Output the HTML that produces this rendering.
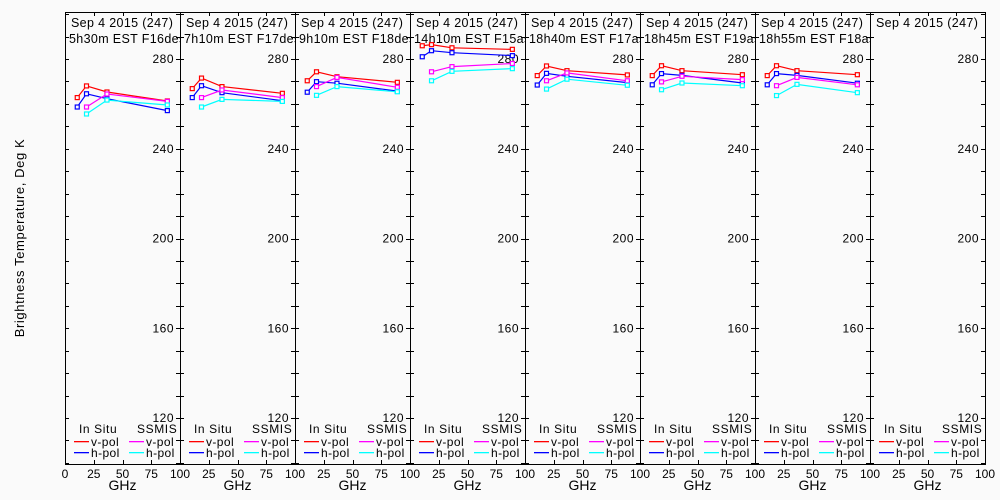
<!DOCTYPE html>
<html><head><meta charset="utf-8"><style>
html,body{margin:0;padding:0;background:#fafafa;}
svg{display:block;font-family:"Liberation Sans",sans-serif;}
</style></head><body>
<svg id="chart" width="1000" height="500" viewBox="0 0 1000 500" xmlns="http://www.w3.org/2000/svg">
<rect x="0" y="0" width="1000" height="500" fill="#fafafa"/>
<text transform="translate(24,238) rotate(-90)" text-anchor="middle" font-size="13" letter-spacing="0.6" fill="#000">Brightness Temperature, Deg K</text>
<g id="panels"></g>
</svg>
<script>
const titles1 = ["Sep 4 2015 (247)","Sep 4 2015 (247)","Sep 4 2015 (247)","Sep 4 2015 (247)","Sep 4 2015 (247)","Sep 4 2015 (247)","Sep 4 2015 (247)","Sep 4 2015 (247)"];
const titles2 = ["5h30m EST F16des","7h10m EST F17des","9h10m EST F18des","14h10m EST F15asc","18h40m EST F17asc","18h45m EST F19asc","18h55m EST F18asc",""];
const inSituFreq = [10.65, 18.7, 36.5, 89];
const ssmisFreq = [18.7, 36.5, 89];
const inSituV = [[262.8,268,265.3,261.3],[266.8,271.5,267.7,264.7],[270.3,274.3,272.1,269.6],[285.9,286.4,285,284.3],[272.6,276.9,274.8,272.9],[272.6,277,274.8,273],[272.6,277,274.8,273],null];
const inSituH = [[258.6,264.5,262.3,257],[262.8,268.1,265,261.4],[265.2,269.9,269.2,265.7],[281,283.7,282.8,281.5],[268.4,273.6,272.3,269.5],[268.5,273.5,272.7,269.3],[268.5,273.5,272.7,269.2],null];
const ssmisV = [[258.6,264.4,261.1],[262.8,266.2,262.8],[267.7,271.8,267.4],[274.3,276.6,278],[270.3,273.8,270.3],[269.8,272.3,270.8],[268.1,271.8,268.5],null];
const ssmisH = [[255.5,261.7,259.5],[258.6,262,261.1],[263.8,267.7,265.4],[270.3,274.5,275.7],[266.6,271,268.3],[266.3,269.3,268.1],[263.7,268.7,265],null];
const yTicks = [120,160,200,240,280];
const xTicks = [0,25,50,75,100];

const NS="http://www.w3.org/2000/svg";
const X0=65, PW=115, TOP=12, BOT=464;
const yScale = v => 418 - (v-120)*(359/160);
function mk(tag, attrs, parent){const e=document.createElementNS(NS,tag);for(const k in attrs)e.setAttribute(k,attrs[k]);parent.appendChild(e);return e;}
const root=document.getElementById('panels');
const defs=mk('defs',{},root);
for(let p=0;p<8;p++){
  const left=X0+p*PW, right=left+PW;
  const xs = f => left + f/100*PW;
  const g=mk('g',{},root);
  
  
  const cp=mk('clipPath',{id:'cp'+p},defs);
  mk('rect',{x:left,y:0,width:PW,height:500},cp);
  const frame=mk('rect',{x:left+0.5,y:TOP+0.5,width:PW,height:BOT-TOP,fill:'none',stroke:'#000','stroke-width':1},g);
  
  
  for(let v=100;v<=300;v+=10){
    const y=Math.round(yScale(v))+0.5;
    if(y<TOP||y>BOT)continue;
    mk('line',{x1:left,x2:left+4,y1:y,y2:y,stroke:'#000'},g);
    mk('line',{x1:right-4,x2:right,y1:y,y2:y,stroke:'#000'},g);
  }
  yTicks.forEach(v=>{
    const t=mk('text',{x:right-6,y:yScale(v)+4,'text-anchor':'end','font-size':12,'letter-spacing':0.5,fill:'#000'},g);
    
    
    t.textContent=v;
  });
  xTicks.forEach(v=>{
    const x=Math.round(xs(v))+0.5;
    mk('line',{x1:x,x2:x,y1:BOT,y2:BOT-4,stroke:'#000'},g);
    mk('line',{x1:x,x2:x,y1:TOP,y2:TOP+4,stroke:'#000'},g);
    if(p>0&&v===0)return;
    const t=mk('text',{x:xs(v),y:BOT+14,'text-anchor':'middle','font-size':12,fill:'#000'},g);
    
    
    t.textContent=v;
  });
  const xl=mk('text',{x:left+PW/2,y:490,'text-anchor':'middle','font-size':14,fill:'#000'},g);
  
  
  xl.textContent='GHz';
  const tg=mk('g',{'clip-path':'url(#cp'+p+')'},g);
  const t1=mk('text',{x:left+6,y:27,'font-size':12.5,'letter-spacing':0.35,fill:'#000'},tg);
  
  
  t1.textContent=titles1[p];
  const t2=mk('text',{x:left+4,y:43,'font-size':12.5,'letter-spacing':0.35,fill:'#000'},tg);
  
  
  t2.textContent=titles2[p];
  const lg=mk('g',{},g);
  
  
  const h1=mk('text',{x:left+14,y:433,'font-size':12,'letter-spacing':0.6,fill:'#000'},lg); h1.textContent='In Situ';
  const h2=mk('text',{x:left+72,y:433,'font-size':12,'letter-spacing':0.6,fill:'#000'},lg); h2.textContent='SSMIS';
  [['v-pol','#f00','#f0f',446],['h-pol','#00f','#0ff',457]].forEach(r=>{
    mk('rect',{x:left+9,y:r[3]-5,width:15,height:1.3,fill:r[1]},lg);
    const a=mk('text',{x:left+26,y:r[3],'font-size':12,'letter-spacing':0.4,fill:'#000'},lg); a.textContent=r[0];
    mk('rect',{x:left+64,y:r[3]-5,width:15,height:1.3,fill:r[2]},lg);
    const b=mk('text',{x:left+81,y:r[3],'font-size':12,'letter-spacing':0.4,fill:'#000'},lg); b.textContent=r[0];
  });
  const series=[[inSituV,inSituFreq,'#f00','insitu-vpol'],[inSituH,inSituFreq,'#00f','insitu-hpol'],[ssmisV,ssmisFreq,'#f0f','ssmis-vpol'],[ssmisH,ssmisFreq,'#0ff','ssmis-hpol']];
  series.forEach(s=>{
    const vals=s[0][p]; if(!vals)return;
    const pts=vals.map((v,i)=>xs(s[1][i]).toFixed(1)+','+yScale(v).toFixed(1)).join(' ');
    const pl=mk('polyline',{points:pts,fill:'none',stroke:s[2],'stroke-width':1.2},g);
    
    
    vals.forEach((v,i)=>{
      const r=mk('rect',{x:xs(s[1][i])-2,y:yScale(v)-2,width:4,height:4,fill:'#fafafa',stroke:s[2],'stroke-width':1.2},g);
      
      
    });
  });
}
</script>
</body></html>
